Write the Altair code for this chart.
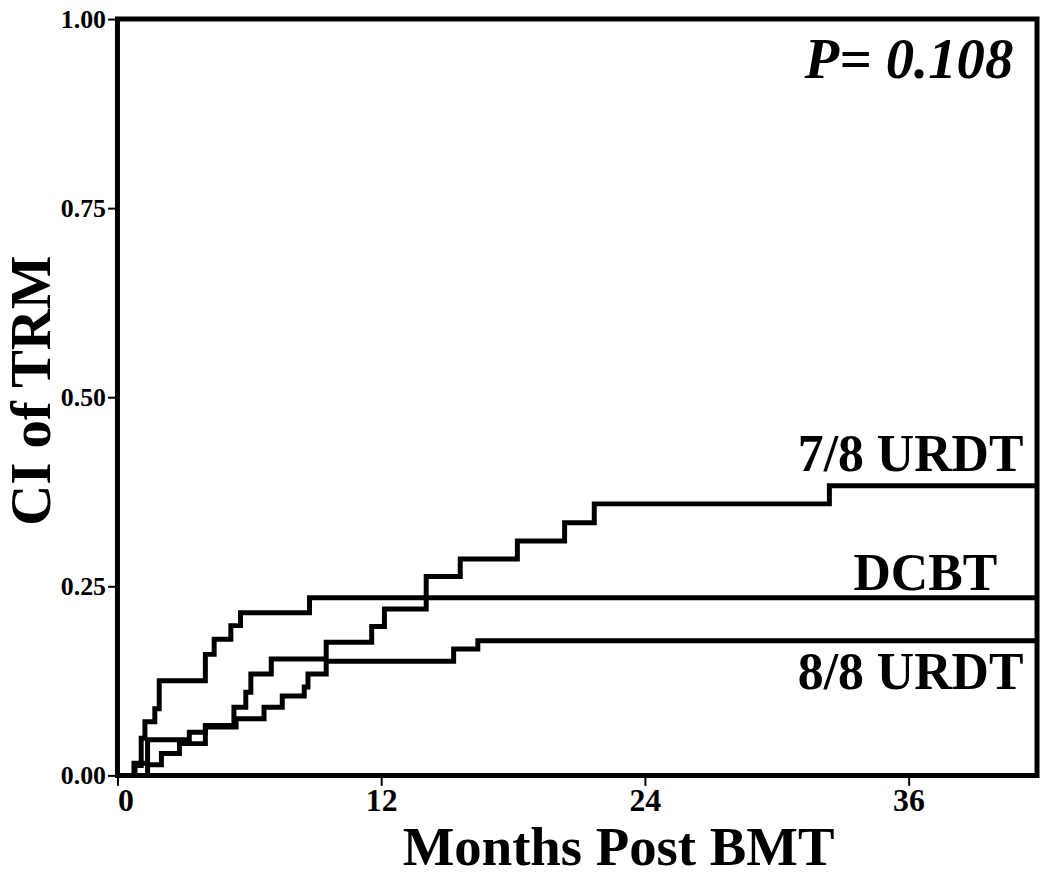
import altair as alt
import pandas as pd

# Cumulative incidence of TRM (months post BMT)
dcbt_t = [0, 0.8, 1.08, 1.25, 1.7, 1.9, 4.0, 4.4, 5.16, 5.6, 8.74, 41.85]
dcbt_ci = [0, 0.013, 0.049, 0.071, 0.088, 0.125, 0.16, 0.18, 0.198, 0.215, 0.235, 0.235]

urdt78_t = [0, 0.75, 1.37, 3.27, 4.0, 5.3, 5.84, 6.07, 7.0, 9.5, 11.57, 12.15,
            14.05, 15.6, 18.2, 20.35, 21.7, 32.4, 41.85]
urdt78_ci = [0, 0.016, 0.047, 0.057, 0.066, 0.09, 0.11, 0.134, 0.154, 0.176, 0.197, 0.22,
             0.263, 0.286, 0.31, 0.334, 0.359, 0.383, 0.383]

urdt88_t = [0, 1.37, 2.0, 2.82, 4.0, 5.4, 6.67, 7.5, 8.5, 8.67, 9.5, 15.3, 16.4, 41.85]
urdt88_ci = [0, 0.014, 0.029, 0.042, 0.064, 0.075, 0.09, 0.105, 0.117, 0.134, 0.151,
             0.167, 0.178, 0.178]

x_ticks = [0, 12, 24, 36]
y_ticks = [0, 0.25, 0.5, 0.75, 1.0]

label_text = ["7/8 URDT", "DCBT", "8/8 URDT"]
label_x = [41.23, 40.04, 41.23]
label_y = [0.403, 0.245, 0.114]

p_text = "P= 0.108"

rows = []
for name, ts, cs in [("DCBT", dcbt_t, dcbt_ci), ("7/8 URDT", urdt78_t, urdt78_ci),
                     ("8/8 URDT", urdt88_t, urdt88_ci)]:
    for t, c in zip(ts, cs):
        rows.append({"group": name, "t": t, "ci": c})
df = pd.DataFrame(rows)

lab_df = pd.DataFrame({"text": label_text, "t": label_x, "ci": label_y})

FONT = "Liberation Serif"

xscale = alt.Scale(domain=[0, 41.85], nice=False, zero=False)
yscale = alt.Scale(domain=[0, 1], nice=False)

lines = alt.Chart(df).mark_line(interpolate="step-after", color="black",
                                strokeWidth=5, clip=True).encode(
    x=alt.X("t:Q", scale=xscale,
            axis=alt.Axis(values=x_ticks, title="Months Post BMT", labelFontSize=32,
                          labelPadding=0, titleX=503, titleY=90,
                          titleBaseline="alphabetic", titleAlign="center",
                          titleFontSize=55, grid=False)),
    y=alt.Y("ci:Q", scale=yscale,
            axis=alt.Axis(values=y_ticks, format=".2f", title="CI of TRM",
                          labelFontSize=26, labelPadding=2, titleX=-68, titleY=373,
                          titleBaseline="alphabetic", titleAlign="center",
                          titleFontSize=57, grid=False)),
    detail="group:N",
)

labels = alt.Chart(lab_df).mark_text(align="right", baseline="alphabetic", font=FONT,
                                      fontWeight="bold", fontSize=52, color="black").encode(
    x=alt.X("t:Q", scale=xscale),
    y=alt.Y("ci:Q", scale=yscale),
    text="text:N",
)

ptext = alt.Chart(pd.DataFrame({"text": [p_text], "t": [40.77], "ci": [0.922]})).mark_text(
    align="right", baseline="alphabetic", font=FONT, fontWeight="bold",
    fontStyle="italic", fontSize=57, color="black").encode(
    x=alt.X("t:Q", scale=xscale),
    y=alt.Y("ci:Q", scale=yscale),
    text="text:N",
)

chart = alt.layer(lines, labels, ptext).properties(
    width=924, height=760,
    autosize=alt.AutoSizeParams(type="none"),
    padding={"left": 110, "top": 9, "right": 5, "bottom": 100},
    background="white",
).configure_view(
    stroke="black", strokeWidth=5
).configure_axis(
    domain=False, ticks=True, tickColor="black", tickWidth=2, tickSize=10,
    labelFont=FONT, labelFontWeight="bold", labelColor="black",
    titleFont=FONT, titleFontWeight="bold", titleColor="black",
)

chart.save("out.html", embed_options={"renderer": "svg", "actions": False})
